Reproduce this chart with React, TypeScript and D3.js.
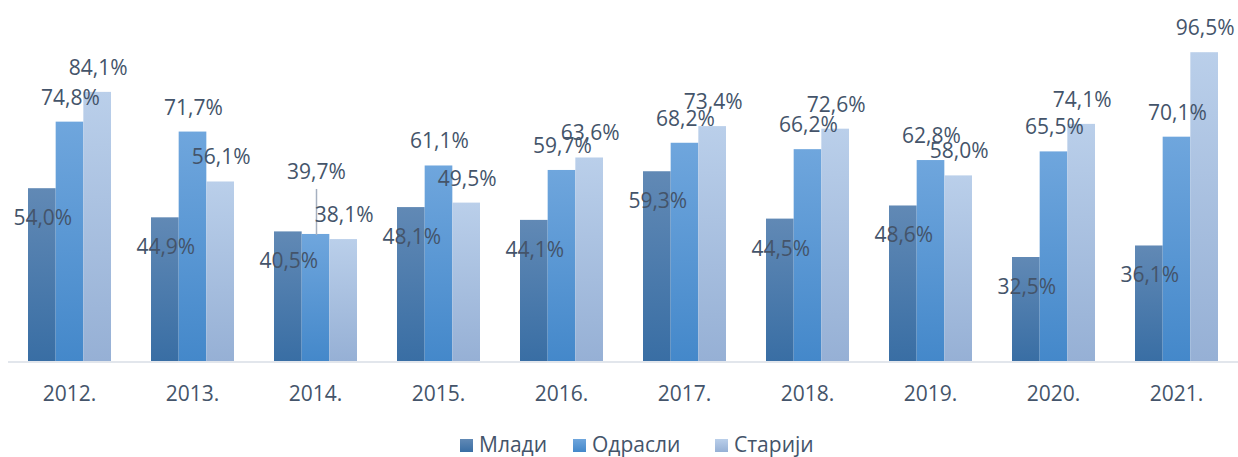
import * as d3 from "d3";
import { useEffect, useRef } from "react";

const years = ["2012.", "2013.", "2014.", "2015.", "2016.", "2017.", "2018.", "2019.", "2020.", "2021."];
const seriesNames = ["Млади", "Одрасли", "Старији"];
const mladi = [54.0, 44.9, 40.5, 48.1, 44.1, 59.3, 44.5, 48.6, 32.5, 36.1];
const odrasli = [74.8, 71.7, 39.7, 61.1, 59.7, 68.2, 66.2, 62.8, 65.5, 70.1];
const stariji = [84.1, 56.1, 38.1, 49.5, 63.6, 73.4, 72.6, 58.0, 74.1, 96.5];

// gradient stops per series: [top, bottom]
const gradients = [
  ["#6189b5", "#396ea4"],
  ["#6fa6dd", "#4488ca"],
  ["#bacfea", "#96b0d5"],
];

const W = 1238;
const H = 457;
const textColor = "#44546a";
const font = "'Open Sans', sans-serif";
const fontSize = "21px";

export default function App() {
  const ref = useRef<SVGSVGElement>(null);

  useEffect(() => {
    if (!ref.current) return;
    const svg = d3.select(ref.current);
    svg.selectAll("*").remove();

    const margin = { left: 8, top: 41, bottom: 96 };
    const baseY = H - margin.bottom;

    const x = d3
      .scaleBand<string>()
      .domain(years)
      .range([margin.left, W]);
    const band = x.bandwidth();
    const x1 = d3.scaleBand<number>().domain([0, 1, 2]).range([20, band - 20]);

    const y = d3.scaleLinear().domain([0, 100]).range([baseY, margin.top]);

    const defs = svg.append("defs");
    gradients.forEach((g, i) => {
      const lg = defs
        .append("linearGradient")
        .attr("id", `grad${i}`)
        .attr("x1", 0)
        .attr("y1", 0)
        .attr("x2", 0)
        .attr("y2", 1);
      lg.append("stop").attr("offset", "0%").attr("stop-color", g[0]);
      lg.append("stop").attr("offset", "100%").attr("stop-color", g[1]);
    });

    const series = [mladi, odrasli, stariji];

    // axis line
    svg
      .append("line")
      .attr("x1", margin.left)
      .attr("x2", W)
      .attr("y1", baseY + 1)
      .attr("y2", baseY + 1)
      .attr("stroke", "#d9dee6")
      .attr("stroke-width", 1.5);

    series.forEach((vals, s) => {
      svg
        .append("g")
        .selectAll("rect")
        .data(vals)
        .join("rect")
        .attr("x", (_d, i) => (x(years[i]) ?? 0) + (x1(s) ?? 0))
        .attr("y", (d) => y(d))
        .attr("width", x1.bandwidth())
        .attr("height", (d) => baseY - y(d))
        .attr("fill", `url(#grad${s})`);
    });

    // labels
    const labelG = svg
      .append("g")
      .style("font-family", font)
      .style("font-size", fontSize)
      .attr("fill", textColor);
    series.forEach((vals, s) => {
      vals.forEach((v, i) => {
        const cx = (x(years[i]) ?? 0) + (x1(s) ?? 0) + x1.bandwidth() / 2;
        let ly = s === 0 ? y(v) + 37 : y(v) - 17;
        // 2014 Odrasli label moved up with a leader line
        if (i === 2 && s === 1) {
          ly = y(v) - 55;
          svg
            .append("line")
            .attr("x1", cx + 1)
            .attr("x2", cx + 1)
            .attr("y1", ly + 10)
            .attr("y2", y(v) + 1)
            .attr("stroke", "#a6b0c0")
            .attr("stroke-width", 1.5);
        }
        labelG
          .append("text")
          .attr("x", cx + 1)
          .attr("y", ly)
          .attr("text-anchor", "middle")
          .text(v.toFixed(1).replace(".", ",") + "%");
      });
    });
    labelG.raise();

    // x tick labels
    svg
      .append("g")
      .selectAll("text")
      .data(years)
      .join("text")
      .attr("x", (d) => (x(d) ?? 0) + band / 2)
      .attr("y", 401)
      .attr("text-anchor", "middle")
      .style("font-family", font)
      .style("font-size", fontSize)
      .attr("fill", textColor)
      .text((d) => d);

    // legend
    const legendX = [460, 573, 715];
    const lg = svg.append("g");
    seriesNames.forEach((name, i) => {
      lg.append("rect")
        .attr("x", legendX[i])
        .attr("y", 439)
        .attr("width", 13)
        .attr("height", 13)
        .attr("fill", `url(#grad${i})`);
      lg.append("text")
        .attr("x", legendX[i] + 19)
        .attr("y", 452)
        .style("font-family", font)
        .style("font-size", fontSize)
        .attr("fill", textColor)
        .text(name);
    });
  }, []);

  return (
    <div style={{ position: "fixed", left: 0, top: 0, background: "#fff" }}>
      <svg ref={ref} width={W} height={H} style={{ display: "block" }} />
    </div>
  );
}
